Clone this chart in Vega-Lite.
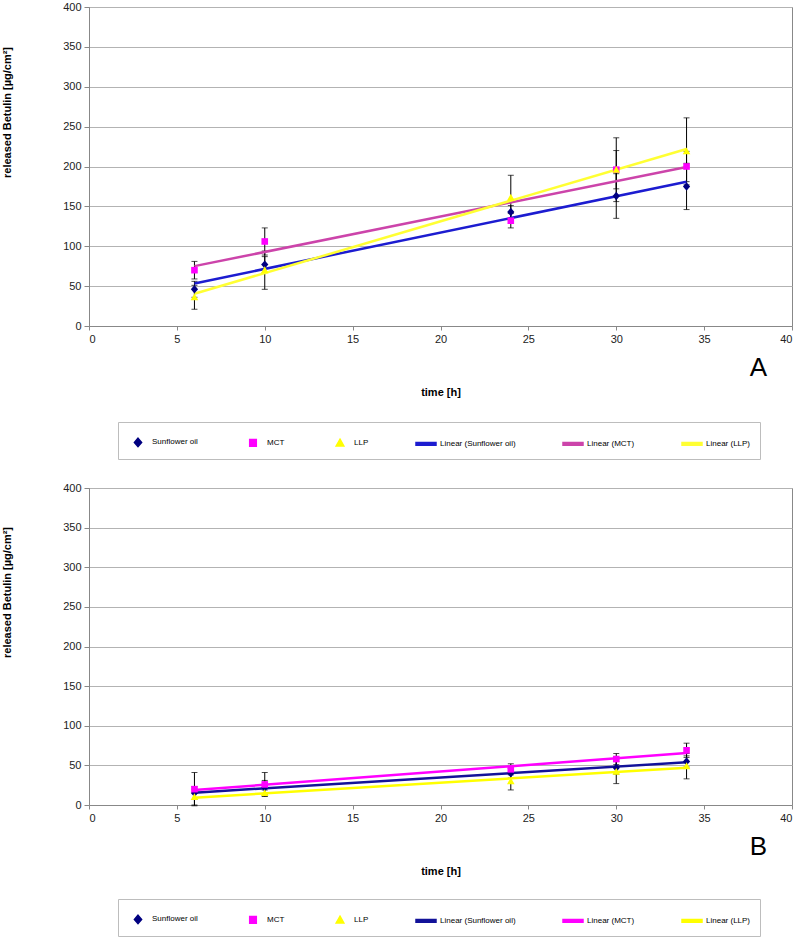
{
  "$schema": "https://vega.github.io/schema/vega-lite/v6.json",
  "padding": {"left": 0, "top": 0, "right": 0, "bottom": 0},
  "background": "white",
  "spacing": 21,
  "config": {
    "font": "Liberation Sans",
    "view": {"stroke": "#888888"},
    "axis": {
      "labelFont": "Liberation Sans", "labelFontSize": 11, "labelColor": "#222222",
      "titleFont": "Liberation Sans", "titleFontSize": 11, "titleFontWeight": "bold", "titleColor": "#000000",
      "domainColor": "#888888", "tickColor": "#888888", "gridColor": "#b3b3b3"
    }
  },
  "datasets": {
    "a": [
      {"series": "Sunflower oil", "trend": "Linear (Sunflower oil)", "time": 6, "value": 46, "err": 10},
      {"series": "Sunflower oil", "trend": "Linear (Sunflower oil)", "time": 10, "value": 77, "err": 10},
      {"series": "Sunflower oil", "trend": "Linear (Sunflower oil)", "time": 24, "value": 143, "err": 8},
      {"series": "Sunflower oil", "trend": "Linear (Sunflower oil)", "time": 30, "value": 163, "err": 28},
      {"series": "Sunflower oil", "trend": "Linear (Sunflower oil)", "time": 34, "value": 175, "err": 29},
      {"series": "MCT", "trend": "Linear (MCT)", "time": 6, "value": 70, "err": 11},
      {"series": "MCT", "trend": "Linear (MCT)", "time": 10, "value": 106, "err": 17},
      {"series": "MCT", "trend": "Linear (MCT)", "time": 24, "value": 132, "err": 9},
      {"series": "MCT", "trend": "Linear (MCT)", "time": 30, "value": 196, "err": 24},
      {"series": "MCT", "trend": "Linear (MCT)", "time": 34, "value": 200, "err": 19},
      {"series": "LLP", "trend": "Linear (LLP)", "time": 6, "value": 36, "err": 15},
      {"series": "LLP", "trend": "Linear (LLP)", "time": 10, "value": 70, "err": 24},
      {"series": "LLP", "trend": "Linear (LLP)", "time": 24, "value": 161, "err": 28},
      {"series": "LLP", "trend": "Linear (LLP)", "time": 30, "value": 196, "err": 40},
      {"series": "LLP", "trend": "Linear (LLP)", "time": 34, "value": 219, "err": 42}
    ],
    "b": [
      {"series": "Sunflower oil", "trend": "Linear (Sunflower oil)", "time": 6, "value": 15, "err": 8},
      {"series": "Sunflower oil", "trend": "Linear (Sunflower oil)", "time": 10, "value": 22, "err": 9},
      {"series": "Sunflower oil", "trend": "Linear (Sunflower oil)", "time": 24, "value": 40, "err": 6},
      {"series": "Sunflower oil", "trend": "Linear (Sunflower oil)", "time": 30, "value": 47, "err": 8},
      {"series": "Sunflower oil", "trend": "Linear (Sunflower oil)", "time": 34, "value": 55, "err": 7},
      {"series": "MCT", "trend": "Linear (MCT)", "time": 6, "value": 20, "err": 21},
      {"series": "MCT", "trend": "Linear (MCT)", "time": 10, "value": 26, "err": 15},
      {"series": "MCT", "trend": "Linear (MCT)", "time": 24, "value": 45, "err": 7},
      {"series": "MCT", "trend": "Linear (MCT)", "time": 30, "value": 58, "err": 7},
      {"series": "MCT", "trend": "Linear (MCT)", "time": 34, "value": 69, "err": 9},
      {"series": "LLP", "trend": "Linear (LLP)", "time": 6, "value": 10, "err": 10},
      {"series": "LLP", "trend": "Linear (LLP)", "time": 10, "value": 15, "err": 4},
      {"series": "LLP", "trend": "Linear (LLP)", "time": 24, "value": 30, "err": 11},
      {"series": "LLP", "trend": "Linear (LLP)", "time": 30, "value": 42, "err": 15},
      {"series": "LLP", "trend": "Linear (LLP)", "time": 34, "value": 49, "err": 16}
    ]
  },
  "resolve": {
    "scale": {"color": "independent", "shape": "independent"},
    "legend": {"color": "independent", "shape": "independent"}
  },
  "vconcat": [
    {
      "width": 703,
      "height": 319,
      "data": {"name": "a"},
      "resolve": {"axis": {"y": "independent"}},
      "layer": [
        {
          "mark": {"type": "errorbar", "color": "black", "thickness": 1, "ticks": {"size": 6, "color": "black", "thickness": 1}},
          "encoding": {
            "x": {"field": "time", "type": "quantitative", "scale": {"domain": [0, 40], "nice": false}},
            "y": {"field": "value", "type": "quantitative", "scale": {"domain": [0, 400], "nice": false}, "axis": null},
            "yError": {"field": "err"},
            "detail": {"field": "series"}
          }
        },
        {
          "transform": [{"regression": "value", "on": "time", "groupby": ["trend"]}],
          "mark": {"type": "line", "strokeWidth": 2.5},
          "encoding": {
            "x": {"field": "time", "type": "quantitative"},
            "y": {"field": "value", "type": "quantitative",
              "axis": {"orient": "right", "title": "A", "domain": false, "ticks": false, "labels": false, "grid": false,
                "titleAngle": 0, "titleFontSize": 26, "titleFontWeight": "normal", "titleX": -34, "titleY": 360,
                "titleAlign": "center", "titleBaseline": "middle"}},
            "color": {"field": "trend", "type": "nominal"}
          }
        },
        {
          "mark": {"type": "point", "filled": true, "opacity": 1, "size": 400},
          "encoding": {
            "x": {"field": "time", "type": "quantitative", "scale": {"domain": [0, 40], "nice": false},
              "axis": {"values": [0, 5, 10, 15, 20, 25, 30, 35, 40], "grid": false, "tickSize": 4, "labelPadding": 3,
                "title": "time [h]", "titleY": 60, "titleBaseline": "top"}},
            "y": {"field": "value", "type": "quantitative", "scale": {"domain": [0, 400], "nice": false},
              "axis": {"orient": "left", "values": [0, 50, 100, 150, 200, 250, 300, 350, 400], "grid": true, "tickSize": 5, "labelPadding": 3,
                "title": "released Betulin [µg/cm²]", "titleX": -77, "titleY": 105, "titleAlign": "center", "titleBaseline": "bottom"}},
            "color": {"field": "series", "type": "nominal",
              "scale": {"domain": ["Sunflower oil", "MCT", "LLP", "Linear (Sunflower oil)", "Linear (MCT)", "Linear (LLP)"],
                "range": ["#000080", "#ff00ff", "#ffff00", "#1c1cd0", "#cc44aa", "#ffff33"]},
              "legend": {
                "orient": "none", "legendX": 29, "legendY": 415, "direction": "horizontal", "columns": 6, "title": null,
                "strokeColor": "#bdbdbd", "padding": 9, "columnPadding": 44, "symbolSize": 400,
                "labelFont": "Liberation Sans", "labelFontSize": 8, "labelColor": "#000000", "labelOffset": 3
              }},
            "shape": {"field": "series", "type": "nominal",
              "scale": {"domain": ["Sunflower oil", "MCT", "LLP", "Linear (Sunflower oil)", "Linear (MCT)", "Linear (LLP)"],
                "range": ["M0,-0.42L0.36,0L0,0.42L-0.36,0Z", "M-0.33,-0.33H0.33V0.33H-0.33Z", "M0,-0.38L0.38,0.3H-0.38Z",
                  "M-1,-0.13H1V0.13H-1Z", "M-1,-0.13H1V0.13H-1Z", "M-1,-0.13H1V0.13H-1Z"]},
              "legend": {"title": null}}
          }
        }
      ]
    },
    {
      "width": 703,
      "height": 317,
      "data": {"name": "b"},
      "resolve": {"axis": {"y": "independent"}},
      "layer": [
        {
          "mark": {"type": "errorbar", "color": "black", "thickness": 1, "ticks": {"size": 6, "color": "black", "thickness": 1}},
          "encoding": {
            "x": {"field": "time", "type": "quantitative", "scale": {"domain": [0, 40], "nice": false}},
            "y": {"field": "value", "type": "quantitative", "scale": {"domain": [0, 400], "nice": false}, "axis": null},
            "yError": {"field": "err"},
            "detail": {"field": "series"}
          }
        },
        {
          "transform": [{"regression": "value", "on": "time", "groupby": ["trend"]}],
          "mark": {"type": "line", "strokeWidth": 2.5},
          "encoding": {
            "x": {"field": "time", "type": "quantitative"},
            "y": {"field": "value", "type": "quantitative",
              "axis": {"orient": "right", "title": "B", "domain": false, "ticks": false, "labels": false, "grid": false,
                "titleAngle": 0, "titleFontSize": 26, "titleFontWeight": "normal", "titleX": -34, "titleY": 358,
                "titleAlign": "center", "titleBaseline": "middle"}},
            "color": {"field": "trend", "type": "nominal"}
          }
        },
        {
          "mark": {"type": "point", "filled": true, "opacity": 1, "size": 400},
          "encoding": {
            "x": {"field": "time", "type": "quantitative", "scale": {"domain": [0, 40], "nice": false},
              "axis": {"values": [0, 5, 10, 15, 20, 25, 30, 35, 40], "grid": false, "tickSize": 4, "labelPadding": 3,
                "title": "time [h]", "titleY": 60, "titleBaseline": "top"}},
            "y": {"field": "value", "type": "quantitative", "scale": {"domain": [0, 400], "nice": false},
              "axis": {"orient": "left", "values": [0, 50, 100, 150, 200, 250, 300, 350, 400], "grid": true, "tickSize": 5, "labelPadding": 3,
                "title": "released Betulin [µg/cm²]", "titleX": -77, "titleY": 104, "titleAlign": "center", "titleBaseline": "bottom"}},
            "color": {"field": "series", "type": "nominal",
              "scale": {"domain": ["Sunflower oil", "MCT", "LLP", "Linear (Sunflower oil)", "Linear (MCT)", "Linear (LLP)"],
                "range": ["#000080", "#ff00ff", "#ffff00", "#121299", "#ff00ff", "#ffff00"]},
              "legend": {
                "orient": "none", "legendX": 29, "legendY": 411, "direction": "horizontal", "columns": 6, "title": null,
                "strokeColor": "#bdbdbd", "padding": 9, "columnPadding": 44, "symbolSize": 400,
                "labelFont": "Liberation Sans", "labelFontSize": 8, "labelColor": "#000000", "labelOffset": 3
              }},
            "shape": {"field": "series", "type": "nominal",
              "scale": {"domain": ["Sunflower oil", "MCT", "LLP", "Linear (Sunflower oil)", "Linear (MCT)", "Linear (LLP)"],
                "range": ["M0,-0.42L0.36,0L0,0.42L-0.36,0Z", "M-0.33,-0.33H0.33V0.33H-0.33Z", "M0,-0.38L0.38,0.3H-0.38Z",
                  "M-1,-0.13H1V0.13H-1Z", "M-1,-0.13H1V0.13H-1Z", "M-1,-0.13H1V0.13H-1Z"]},
              "legend": {"title": null}}
          }
        }
      ]
    }
  ]
}
